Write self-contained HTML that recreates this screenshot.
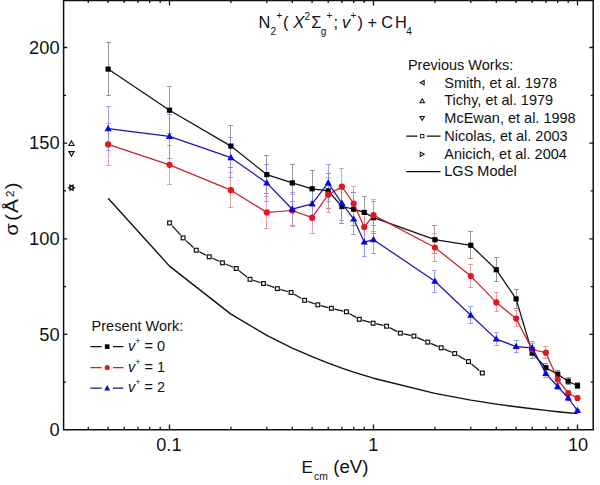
<!DOCTYPE html>
<html><head><meta charset="utf-8"><title>N2+ + CH4 cross sections</title>
<style>
html,body{margin:0;padding:0;background:#fff;}
body{width:600px;height:485px;overflow:hidden;position:relative;font-family:"Liberation Sans",sans-serif;}
</style></head><body>
<svg width="600" height="485" viewBox="0 0 600 485" style="position:absolute;left:0;top:0">
<rect width="600" height="485" fill="#fff"/>
<g stroke="#111" stroke-width="1.5" fill="none" stroke-linecap="butt">
<path d="M63.6 0 V429.8 H593.2 V0"/>
<rect x="62.9" y="-1" width="531.0" height="2.25" fill="#111" stroke="none"/>
<path d="M88.3 429.8 v-3 M88.3 0 v3.1 M108.1 429.8 v-3 M108.1 0 v3.1 M124.2 429.8 v-3 M124.2 0 v3.1 M137.9 429.8 v-3 M137.9 0 v3.1 M149.7 429.8 v-3 M149.7 0 v3.1 M160.2 429.8 v-3 M160.2 0 v3.1 M169.5 429.8 v-5.3 M169.5 0 v5.5 M230.9 429.8 v-3 M230.9 0 v3.1 M266.8 429.8 v-3 M266.8 0 v3.1 M292.3 429.8 v-3 M292.3 0 v3.1 M312.1 429.8 v-3 M312.1 0 v3.1 M328.2 429.8 v-3 M328.2 0 v3.1 M341.9 429.8 v-3 M341.9 0 v3.1 M353.7 429.8 v-3 M353.7 0 v3.1 M364.2 429.8 v-3 M364.2 0 v3.1 M373.5 429.8 v-5.3 M373.5 0 v5.5 M434.9 429.8 v-3 M434.9 0 v3.1 M470.8 429.8 v-3 M470.8 0 v3.1 M496.3 429.8 v-3 M496.3 0 v3.1 M516.1 429.8 v-3 M516.1 0 v3.1 M532.2 429.8 v-3 M532.2 0 v3.1 M545.9 429.8 v-3 M545.9 0 v3.1 M557.7 429.8 v-3 M557.7 0 v3.1 M568.2 429.8 v-3 M568.2 0 v3.1 M577.5 429.8 v-5.3 M577.5 0 v5.5" stroke-width="1.3"/>
<path d="M63.6 382.2 h2.4 M593.2 382.2 h-2.5 M63.6 334.4 h3.6 M593.2 334.4 h-3.7 M63.6 286.6 h2.4 M593.2 286.6 h-2.5 M63.6 238.8 h3.6 M593.2 238.8 h-3.7 M63.6 190.9 h2.4 M593.2 190.9 h-2.5 M63.6 143.1 h3.6 M593.2 143.1 h-3.7 M63.6 95.3 h2.4 M593.2 95.3 h-2.5 M63.6 47.5 h3.6 M593.2 47.5 h-3.7" stroke-width="1.3"/>
</g>
<polyline points="108.1,198.2 169.5,266.1 230.9,314.1 266.8,335.4 292.3,348.1 312.1,356.7 328.2,363.1 341.9,368.1 353.7,372.1 364.2,375.4 373.5,378.2 434.9,393.4 470.8,400.1 496.3,404.1 516.1,406.8 532.2,408.8 545.9,410.4 557.7,411.7 568.2,412.7 577.5,413.6" fill="none" stroke="#111" stroke-width="1.4" stroke-linejoin="round"/>
<polyline points="169.6,222.9 183.1,237.9 196.3,250.2 209.2,256.8 222.4,262.8 236.2,268.5 250,279.3 263.5,283.5 277.3,288.6 291.1,292.5 304.6,300.3 317.8,304.8 331.4,308.3 346.4,311.8 359.3,319.3 373.1,323.2 386.6,326.2 400.4,333.1 413.9,336.1 427.7,342.1 441.2,347.8 454.7,353.5 468.5,361.6 482.3,373" fill="none" stroke="#111" stroke-width="1.25"/>
<rect x="166.6" y="219.9" width="6" height="6" fill="#fff"/><rect x="167.7" y="221.0" width="3.8" height="3.8" fill="#fff" stroke="#111" stroke-width="1.2"/>
<rect x="180.1" y="234.9" width="6" height="6" fill="#fff"/><rect x="181.2" y="236.0" width="3.8" height="3.8" fill="#fff" stroke="#111" stroke-width="1.2"/>
<rect x="193.3" y="247.2" width="6" height="6" fill="#fff"/><rect x="194.4" y="248.3" width="3.8" height="3.8" fill="#fff" stroke="#111" stroke-width="1.2"/>
<rect x="206.2" y="253.8" width="6" height="6" fill="#fff"/><rect x="207.3" y="254.9" width="3.8" height="3.8" fill="#fff" stroke="#111" stroke-width="1.2"/>
<rect x="219.4" y="259.8" width="6" height="6" fill="#fff"/><rect x="220.5" y="260.9" width="3.8" height="3.8" fill="#fff" stroke="#111" stroke-width="1.2"/>
<rect x="233.2" y="265.5" width="6" height="6" fill="#fff"/><rect x="234.3" y="266.6" width="3.8" height="3.8" fill="#fff" stroke="#111" stroke-width="1.2"/>
<rect x="247.0" y="276.3" width="6" height="6" fill="#fff"/><rect x="248.1" y="277.4" width="3.8" height="3.8" fill="#fff" stroke="#111" stroke-width="1.2"/>
<rect x="260.5" y="280.5" width="6" height="6" fill="#fff"/><rect x="261.6" y="281.6" width="3.8" height="3.8" fill="#fff" stroke="#111" stroke-width="1.2"/>
<rect x="274.3" y="285.6" width="6" height="6" fill="#fff"/><rect x="275.4" y="286.7" width="3.8" height="3.8" fill="#fff" stroke="#111" stroke-width="1.2"/>
<rect x="288.1" y="289.5" width="6" height="6" fill="#fff"/><rect x="289.2" y="290.6" width="3.8" height="3.8" fill="#fff" stroke="#111" stroke-width="1.2"/>
<rect x="301.6" y="297.3" width="6" height="6" fill="#fff"/><rect x="302.7" y="298.4" width="3.8" height="3.8" fill="#fff" stroke="#111" stroke-width="1.2"/>
<rect x="314.8" y="301.8" width="6" height="6" fill="#fff"/><rect x="315.9" y="302.9" width="3.8" height="3.8" fill="#fff" stroke="#111" stroke-width="1.2"/>
<rect x="328.4" y="305.3" width="6" height="6" fill="#fff"/><rect x="329.5" y="306.4" width="3.8" height="3.8" fill="#fff" stroke="#111" stroke-width="1.2"/>
<rect x="343.4" y="308.8" width="6" height="6" fill="#fff"/><rect x="344.5" y="309.9" width="3.8" height="3.8" fill="#fff" stroke="#111" stroke-width="1.2"/>
<rect x="356.3" y="316.3" width="6" height="6" fill="#fff"/><rect x="357.4" y="317.4" width="3.8" height="3.8" fill="#fff" stroke="#111" stroke-width="1.2"/>
<rect x="370.1" y="320.2" width="6" height="6" fill="#fff"/><rect x="371.2" y="321.3" width="3.8" height="3.8" fill="#fff" stroke="#111" stroke-width="1.2"/>
<rect x="383.6" y="323.2" width="6" height="6" fill="#fff"/><rect x="384.7" y="324.3" width="3.8" height="3.8" fill="#fff" stroke="#111" stroke-width="1.2"/>
<rect x="397.4" y="330.1" width="6" height="6" fill="#fff"/><rect x="398.5" y="331.2" width="3.8" height="3.8" fill="#fff" stroke="#111" stroke-width="1.2"/>
<rect x="410.9" y="333.1" width="6" height="6" fill="#fff"/><rect x="412.0" y="334.2" width="3.8" height="3.8" fill="#fff" stroke="#111" stroke-width="1.2"/>
<rect x="424.7" y="339.1" width="6" height="6" fill="#fff"/><rect x="425.8" y="340.2" width="3.8" height="3.8" fill="#fff" stroke="#111" stroke-width="1.2"/>
<rect x="438.2" y="344.8" width="6" height="6" fill="#fff"/><rect x="439.3" y="345.9" width="3.8" height="3.8" fill="#fff" stroke="#111" stroke-width="1.2"/>
<rect x="451.7" y="350.5" width="6" height="6" fill="#fff"/><rect x="452.8" y="351.6" width="3.8" height="3.8" fill="#fff" stroke="#111" stroke-width="1.2"/>
<rect x="465.5" y="358.6" width="6" height="6" fill="#fff"/><rect x="466.6" y="359.7" width="3.8" height="3.8" fill="#fff" stroke="#111" stroke-width="1.2"/>
<rect x="479.3" y="370.0" width="6" height="6" fill="#fff"/><rect x="480.4" y="371.1" width="3.8" height="3.8" fill="#fff" stroke="#111" stroke-width="1.2"/>
<path d="M108.5 42.5 V95.5 M106.0 42.5 h5 M106.0 95.5 h5 M169.5 86.5 V133.5 M167.0 86.5 h5 M167.0 133.5 h5 M230.5 125.5 V167.5 M228.0 125.5 h5 M228.0 167.5 h5 M266.5 155.5 V193.5 M264.0 155.5 h5 M264.0 193.5 h5 M292.5 164.5 V201.5 M290.0 164.5 h5 M290.0 201.5 h5 M312.5 170.5 V206.5 M310.0 170.5 h5 M310.0 206.5 h5 M328.5 173.5 V208.5 M326.0 173.5 h5 M326.0 208.5 h5 M341.5 189.5 V223.5 M339.0 189.5 h5 M339.0 223.5 h5 M353.5 192.5 V225.5 M351.0 192.5 h5 M351.0 225.5 h5 M364.5 196.5 V228.5 M362.0 196.5 h5 M362.0 228.5 h5 M373.5 201.5 V233.5 M371.0 201.5 h5 M371.0 233.5 h5 M434.5 225.5 V253.5 M432.0 225.5 h5 M432.0 253.5 h5 M470.5 231.5 V258.5 M468.0 231.5 h5 M468.0 258.5 h5 M496.5 257.5 V281.5 M494.0 257.5 h5 M494.0 281.5 h5 M516.5 289.5 V308.5 M514.0 289.5 h5 M514.0 308.5 h5 M532.5 347.5 V358.5 M530.0 347.5 h5 M530.0 358.5 h5 M545.5 363.5 V372.5 M543.0 363.5 h5 M543.0 372.5 h5 M557.5 370.5 V378.5 M555.0 370.5 h5 M555.0 378.5 h5 M568.5 377.5 V384.5 M566.0 377.5 h5 M566.0 384.5 h5 M577.5 382.5 V388.5 M575.0 382.5 h5 M575.0 388.5 h5" fill="none" stroke="#808080" stroke-width="0.8"/>
<path d="M108.5 123.5 V165.5 M106.0 123.5 h5 M106.0 165.5 h5 M169.5 145.5 V184.5 M167.0 145.5 h5 M167.0 184.5 h5 M230.5 172.5 V207.5 M228.0 172.5 h5 M228.0 207.5 h5 M266.5 196.5 V228.5 M264.0 196.5 h5 M264.0 228.5 h5 M292.5 194.5 V226.5 M290.0 194.5 h5 M290.0 226.5 h5 M312.5 201.5 V233.5 M310.0 201.5 h5 M310.0 233.5 h5 M328.5 177.5 V212.5 M326.0 177.5 h5 M326.0 212.5 h5 M341.5 168.5 V204.5 M339.0 168.5 h5 M339.0 204.5 h5 M353.5 186.5 V220.5 M351.0 186.5 h5 M351.0 220.5 h5 M364.5 212.5 V242.5 M362.0 212.5 h5 M362.0 242.5 h5 M373.5 199.5 V231.5 M371.0 199.5 h5 M371.0 231.5 h5 M434.5 233.5 V261.5 M432.0 233.5 h5 M432.0 261.5 h5 M470.5 264.5 V287.5 M468.0 264.5 h5 M468.0 287.5 h5 M496.5 292.5 V311.5 M494.0 292.5 h5 M494.0 311.5 h5 M516.5 310.5 V326.5 M514.0 310.5 h5 M514.0 326.5 h5 M532.5 343.5 V355.5 M530.0 343.5 h5 M530.0 355.5 h5 M545.5 346.5 V358.5 M543.0 346.5 h5 M543.0 358.5 h5 M557.5 375.5 V383.5 M555.0 375.5 h5 M555.0 383.5 h5 M568.5 390.5 V395.5 M566.0 390.5 h5 M566.0 395.5 h5 M577.5 395.5 V400.5 M575.0 395.5 h5 M575.0 400.5 h5" fill="none" stroke="#ea8686" stroke-width="0.8"/>
<path d="M108.5 106.5 V150.5 M106.0 106.5 h5 M106.0 150.5 h5 M169.5 114.5 V158.5 M167.0 114.5 h5 M167.0 158.5 h5 M230.5 137.5 V177.5 M228.0 137.5 h5 M228.0 177.5 h5 M266.5 164.5 V201.5 M264.0 164.5 h5 M264.0 201.5 h5 M292.5 192.5 V225.5 M290.0 192.5 h5 M290.0 225.5 h5 M312.5 187.5 V220.5 M310.0 187.5 h5 M310.0 220.5 h5 M328.5 164.5 V201.5 M326.0 164.5 h5 M326.0 201.5 h5 M341.5 186.5 V220.5 M339.0 186.5 h5 M339.0 220.5 h5 M353.5 203.5 V234.5 M351.0 203.5 h5 M351.0 234.5 h5 M364.5 228.5 V256.5 M362.0 228.5 h5 M362.0 256.5 h5 M373.5 225.5 V253.5 M371.0 225.5 h5 M371.0 253.5 h5 M434.5 270.5 V292.5 M432.0 270.5 h5 M432.0 292.5 h5 M470.5 306.5 V323.5 M468.0 306.5 h5 M468.0 323.5 h5 M496.5 332.5 V345.5 M494.0 332.5 h5 M494.0 345.5 h5 M516.5 340.5 V352.5 M514.0 340.5 h5 M514.0 352.5 h5 M532.5 341.5 V353.5 M530.0 341.5 h5 M530.0 353.5 h5 M545.5 369.5 V377.5 M543.0 369.5 h5 M543.0 377.5 h5 M557.5 383.5 V389.5 M555.0 383.5 h5 M555.0 389.5 h5 M568.5 395.5 V400.5 M566.0 395.5 h5 M566.0 400.5 h5 M577.5 409.5 V412.5 M575.0 409.5 h5 M575.0 412.5 h5" fill="none" stroke="#8686ea" stroke-width="0.8"/>
<polyline points="108.1,69.1 169.5,110.2 230.9,146.1 266.8,174.6 292.3,182.9 312.1,188.8 328.2,190.9 341.9,206.5 353.7,209.2 364.2,212.4 373.5,217.7 434.9,239.7 470.8,245.3 496.3,269.7 516.1,298.9 532.2,353 545.9,367.7 557.7,374.2 568.2,381.2 577.5,385.7" fill="none" stroke="#111" stroke-width="1.25" stroke-linejoin="round"/>
<rect x="105.5" y="66.5" width="5.2" height="5.2" fill="#000"/>
<rect x="166.9" y="107.6" width="5.2" height="5.2" fill="#000"/>
<rect x="228.3" y="143.5" width="5.2" height="5.2" fill="#000"/>
<rect x="264.2" y="172.0" width="5.2" height="5.2" fill="#000"/>
<rect x="289.7" y="180.3" width="5.2" height="5.2" fill="#000"/>
<rect x="309.5" y="186.2" width="5.2" height="5.2" fill="#000"/>
<rect x="325.6" y="188.3" width="5.2" height="5.2" fill="#000"/>
<rect x="339.3" y="203.9" width="5.2" height="5.2" fill="#000"/>
<rect x="351.1" y="206.6" width="5.2" height="5.2" fill="#000"/>
<rect x="361.6" y="209.8" width="5.2" height="5.2" fill="#000"/>
<rect x="370.9" y="215.1" width="5.2" height="5.2" fill="#000"/>
<rect x="432.3" y="237.1" width="5.2" height="5.2" fill="#000"/>
<rect x="468.2" y="242.7" width="5.2" height="5.2" fill="#000"/>
<rect x="493.7" y="267.1" width="5.2" height="5.2" fill="#000"/>
<rect x="513.5" y="296.3" width="5.2" height="5.2" fill="#000"/>
<rect x="529.6" y="350.4" width="5.2" height="5.2" fill="#000"/>
<rect x="543.3" y="365.1" width="5.2" height="5.2" fill="#000"/>
<rect x="555.1" y="371.6" width="5.2" height="5.2" fill="#000"/>
<rect x="565.6" y="378.6" width="5.2" height="5.2" fill="#000"/>
<rect x="574.9" y="383.1" width="5.2" height="5.2" fill="#000"/>
<polyline points="108.1,144.4 169.5,164.8 230.9,190.2 266.8,212.4 292.3,210.5 312.1,217.7 328.2,194.7 341.9,186.6 353.7,203.5 364.2,227.1 373.5,215.1 434.9,247.5 470.8,276.1 496.3,302.4 516.1,318.6 532.2,349.5 545.9,352.7 557.7,379.5 568.2,393.2 577.5,398" fill="none" stroke="#c8242a" stroke-width="1.25" stroke-linejoin="round"/>
<circle cx="108.1" cy="144.4" r="3.1" fill="#e8141e"/>
<circle cx="169.5" cy="164.8" r="3.1" fill="#e8141e"/>
<circle cx="230.9" cy="190.2" r="3.1" fill="#e8141e"/>
<circle cx="266.8" cy="212.4" r="3.1" fill="#e8141e"/>
<circle cx="292.3" cy="210.5" r="3.1" fill="#e8141e"/>
<circle cx="312.1" cy="217.7" r="3.1" fill="#e8141e"/>
<circle cx="328.2" cy="194.7" r="3.1" fill="#e8141e"/>
<circle cx="341.9" cy="186.6" r="3.1" fill="#e8141e"/>
<circle cx="353.7" cy="203.5" r="3.1" fill="#e8141e"/>
<circle cx="364.2" cy="227.1" r="3.1" fill="#e8141e"/>
<circle cx="373.5" cy="215.1" r="3.1" fill="#e8141e"/>
<circle cx="434.9" cy="247.5" r="3.1" fill="#e8141e"/>
<circle cx="470.8" cy="276.1" r="3.1" fill="#e8141e"/>
<circle cx="496.3" cy="302.4" r="3.1" fill="#e8141e"/>
<circle cx="516.1" cy="318.6" r="3.1" fill="#e8141e"/>
<circle cx="532.2" cy="349.5" r="3.1" fill="#e8141e"/>
<circle cx="545.9" cy="352.7" r="3.1" fill="#e8141e"/>
<circle cx="557.7" cy="379.5" r="3.1" fill="#e8141e"/>
<circle cx="568.2" cy="393.2" r="3.1" fill="#e8141e"/>
<circle cx="577.5" cy="398.0" r="3.1" fill="#e8141e"/>
<polyline points="108.1,128.7 169.5,136.4 230.9,157.7 266.8,182.9 292.3,209.2 312.1,203.8 328.2,182.9 341.9,203.3 353.7,219.1 364.2,242.1 373.5,239.7 434.9,281.2 470.8,315.3 496.3,339.1 516.1,346.6 532.2,347.9 545.9,373.6 557.7,386.5 568.2,398 577.5,410.6" fill="none" stroke="#1818b0" stroke-width="1.25" stroke-linejoin="round"/>
<path d="M108.1 124.8 L111.7 131.2 H104.5 Z" fill="#0a0ae0"/>
<path d="M169.5 132.5 L173.1 138.9 H165.9 Z" fill="#0a0ae0"/>
<path d="M230.9 153.8 L234.5 160.2 H227.3 Z" fill="#0a0ae0"/>
<path d="M266.8 179.0 L270.4 185.4 H263.2 Z" fill="#0a0ae0"/>
<path d="M292.3 205.3 L295.9 211.7 H288.7 Z" fill="#0a0ae0"/>
<path d="M312.1 199.9 L315.7 206.3 H308.5 Z" fill="#0a0ae0"/>
<path d="M328.2 179.0 L331.8 185.4 H324.6 Z" fill="#0a0ae0"/>
<path d="M341.9 199.4 L345.5 205.8 H338.3 Z" fill="#0a0ae0"/>
<path d="M353.7 215.2 L357.3 221.6 H350.1 Z" fill="#0a0ae0"/>
<path d="M364.2 238.2 L367.8 244.6 H360.6 Z" fill="#0a0ae0"/>
<path d="M373.5 235.8 L377.1 242.2 H369.9 Z" fill="#0a0ae0"/>
<path d="M434.9 277.3 L438.5 283.7 H431.3 Z" fill="#0a0ae0"/>
<path d="M470.8 311.4 L474.4 317.8 H467.2 Z" fill="#0a0ae0"/>
<path d="M496.3 335.2 L499.9 341.6 H492.7 Z" fill="#0a0ae0"/>
<path d="M516.1 342.7 L519.7 349.1 H512.5 Z" fill="#0a0ae0"/>
<path d="M532.2 344.0 L535.8 350.4 H528.6 Z" fill="#0a0ae0"/>
<path d="M545.9 369.7 L549.5 376.1 H542.3 Z" fill="#0a0ae0"/>
<path d="M557.7 382.6 L561.3 389.0 H554.1 Z" fill="#0a0ae0"/>
<path d="M568.2 394.1 L571.8 400.5 H564.6 Z" fill="#0a0ae0"/>
<path d="M577.5 406.7 L581.1 413.1 H573.9 Z" fill="#0a0ae0"/>
<path d="M71.50 140.95 L74.10 145.45 H68.90 Z" fill="#fff" stroke="#111" stroke-width="1.15" stroke-linejoin="miter"/>
<path d="M71.50 156.15 L74.10 151.65 H68.90 Z" fill="#fff" stroke="#111" stroke-width="1.15"/>
<path d="M68.55 187.70 L73.05 185.10 V190.30 Z" fill="none" stroke="#111" stroke-width="1.15"/>
<path d="M74.45 187.70 L69.95 185.10 V190.30 Z" fill="none" stroke="#111" stroke-width="1.15"/>
<path d="M420.25 82.70 L424.15 80.45 V84.95 Z" fill="#fff" stroke="#111" stroke-width="1.05"/>
<path d="M422.20 98.85 L424.45 102.75 H419.95 Z" fill="#fff" stroke="#111" stroke-width="1.05" stroke-linejoin="miter"/>
<path d="M422.20 120.35 L424.45 116.45 H419.95 Z" fill="#fff" stroke="#111" stroke-width="1.05"/>
<path d="M406.3 136.1 H417.6 M426.8 136.1 H440.5 M406.3 171.6 H440.5" stroke="#111" stroke-width="1.3" fill="none"/>
<rect x="420.5" y="134.4" width="3.4" height="3.4" fill="#fff" stroke="#111" stroke-width="0.9"/>
<path d="M424.15 154.30 L420.25 152.05 V156.55 Z" fill="#fff" stroke="#111" stroke-width="1.05"/>
<path d="M90.4 346.6 H101.6 M113 346.6 H123.4" stroke="#111" stroke-width="1.3" fill="none"/>
<path d="M90.4 367.6 H101.6 M113 367.6 H123.4" stroke="#cf2026" stroke-width="1.3" fill="none"/>
<path d="M90.4 388.2 H101.6 M113 388.2 H123.4" stroke="#16168c" stroke-width="1.3" fill="none"/>
<rect x="104.9" y="344.3" width="4.6" height="4.6" fill="#000"/>
<circle cx="107.2" cy="367.6" r="2.6" fill="#e8141e"/>
<path d="M107.2 385.0 L110.2 390.4 H104.2 Z" fill="#0a0ae0"/>
<g font-family="Liberation Sans, sans-serif" fill="#111">
<text x="59.6" y="436.1" font-size="18.3" text-anchor="end">0</text>
<text x="59.6" y="340.5" font-size="18.3" text-anchor="end">50</text>
<text x="59.6" y="244.8" font-size="18.3" text-anchor="end">100</text>
<text x="59.6" y="149.2" font-size="18.3" text-anchor="end">150</text>
<text x="59.6" y="53.6" font-size="18.3" text-anchor="end">200</text>
<text x="168.9" y="450.6" font-size="18.2" text-anchor="middle">0.1</text>
<text x="373.3" y="450.6" font-size="18.2" text-anchor="middle">1</text>
<text x="578.0" y="450.6" font-size="18.2" text-anchor="middle">10</text>
<text x="301.6" y="472.5" font-size="17.2">E</text>
<text x="314.0" y="480.1" font-size="10.3">cm</text>
<text x="333.2" y="472.6" font-size="18.7">(eV)</text>
<text transform="translate(18.0 235.4) rotate(-90) scale(1.13 1)" font-size="17.6">σ</text>
<text transform="translate(18.0 220.8) rotate(-90) scale(1.13 1)" font-size="17.6">(</text>
<text transform="translate(18.0 213.0) rotate(-90) scale(1.13 1)" font-size="18.6">Å</text>
<text transform="translate(14.1 197.0) rotate(-90) scale(1.13 1)" font-size="10.3">2</text>
<text transform="translate(18.0 189.3) rotate(-90) scale(1.13 1)" font-size="17.6">)</text>
<text x="258.6" y="27.5" font-size="16.4">N</text>
<text x="270.6" y="34.5" font-size="10">2</text>
<text x="276.6" y="18.5" font-size="10">+</text>
<text x="283.0" y="27.5" font-size="16.4">(</text>
<text x="293.3" y="27.5" font-size="16.6" font-style="italic">X</text>
<text x="304.4" y="19.8" font-size="10">2</text>
<text x="311.2" y="27.5" font-size="16.4">Σ</text>
<text x="320.7" y="35.2" font-size="10">g</text>
<text x="326.5" y="18.8" font-size="10">+</text>
<text x="333.5" y="27.5" font-size="16.4">;</text>
<text x="342.0" y="27.5" font-size="16.4" font-style="italic">v</text>
<text x="350.6" y="18.5" font-size="10">+</text>
<text x="357.6" y="27.5" font-size="16.4">)</text>
<text x="367.5" y="27.5" font-size="16.4">+</text>
<text x="381.3" y="27.5" font-size="16.4">C</text>
<text x="395.0" y="27.5" font-size="16.4">H</text>
<text x="406.3" y="34.6" font-size="10">4</text>
<text x="407.9" y="69.6" font-size="14.5">Previous Works:</text>
<text x="444.3" y="87.7" font-size="14.5">Smith, et al. 1978</text>
<text x="444.3" y="105.4" font-size="14.5">Tichy, et al. 1979</text>
<text x="444.3" y="123.1" font-size="14.5">McEwan, et al. 1998</text>
<text x="444.3" y="140.9" font-size="14.5">Nicolas, et al. 2003</text>
<text x="444.3" y="158.6" font-size="14.5">Anicich, et al. 2004</text>
<text x="444.3" y="176.3" font-size="14.5">LGS Model</text>
<text x="91.6" y="330.6" font-size="14.5">Present Work:</text>
<text x="128" y="351.2" font-size="14.5"><tspan font-style="italic">v</tspan><tspan font-size="9" dy="-7">+</tspan><tspan dy="7"> = 0</tspan></text>
<text x="128" y="371.8" font-size="14.5"><tspan font-style="italic">v</tspan><tspan font-size="9" dy="-7">+</tspan><tspan dy="7"> = 1</tspan></text>
<text x="128" y="392.4" font-size="14.5"><tspan font-style="italic">v</tspan><tspan font-size="9" dy="-7">+</tspan><tspan dy="7"> = 2</tspan></text>
</g>
</svg>
</body></html>
